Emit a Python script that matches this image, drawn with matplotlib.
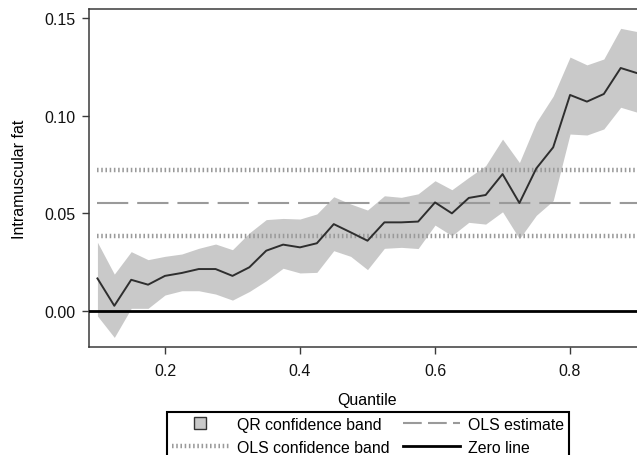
import matplotlib
matplotlib.use("Agg")
import matplotlib.pyplot as plt
from matplotlib.lines import Line2D

plt.rcParams['font.family'] = ['Liberation Sans', 'DejaVu Sans']

# Quantile regression coefficients for intramuscular fat
quantiles = [0.100, 0.125, 0.150, 0.175, 0.200, 0.225, 0.250, 0.275, 0.300,
             0.325, 0.350, 0.375, 0.400, 0.425, 0.450, 0.475, 0.500, 0.525,
             0.550, 0.575, 0.600, 0.625, 0.650, 0.675, 0.700, 0.725, 0.750,
             0.775, 0.800, 0.825, 0.850, 0.875, 0.900]
qr_estimate = [0.0167, 0.0027, 0.0160, 0.0135, 0.0180, 0.0195, 0.0215, 0.0215,
               0.0180, 0.0224, 0.0309, 0.0340, 0.0326, 0.0347, 0.0445, 0.0403,
               0.0360, 0.0454, 0.0454, 0.0458, 0.0556, 0.0500, 0.0579, 0.0594,
               0.0701, 0.0553, 0.0730, 0.0838, 0.1106, 0.1072, 0.1111, 0.1244,
               0.1217]
qr_upper = [0.0352, 0.0189, 0.0304, 0.0263, 0.0280, 0.0292, 0.0321, 0.0343,
            0.0314, 0.0400, 0.0468, 0.0474, 0.0471, 0.0497, 0.0585, 0.0548,
            0.0517, 0.0590, 0.0582, 0.0600, 0.0667, 0.0621, 0.0684, 0.0744,
            0.0880, 0.0760, 0.0966, 0.1100, 0.1300, 0.1260, 0.1290, 0.1447,
            0.1430]
qr_lower = [-0.0025, -0.0135, 0.0014, 0.0014, 0.0082, 0.0104, 0.0104, 0.0087,
            0.0056, 0.0100, 0.0155, 0.0219, 0.0195, 0.0198, 0.0309, 0.0280,
            0.0212, 0.0321, 0.0326, 0.0320, 0.0440, 0.0386, 0.0454, 0.0445,
            0.0508, 0.0370, 0.0490, 0.0565, 0.0906, 0.0901, 0.0932, 0.1043,
            0.1017]

# Ordinary least squares estimate and its confidence limits
ols_estimate = 0.0553
ols_lower = 0.0385
ols_upper = 0.0722

x_ticks = [0.2, 0.4, 0.6, 0.8]
y_ticks = [0.00, 0.05, 0.10, 0.15]
y_tick_labels = ["0.00", "0.05", "0.10", "0.15"]

band_color = '#c9c9c9'
line_color = '#2e2e2e'
ols_color = '#9a9a9a'
dot_style = (0, (0.35, 0.6))
dash_style = (0, (15, 4.3))

fig = plt.figure(figsize=(6.37, 4.56), dpi=100)
ax = fig.add_axes([89 / 637, (456 - 348) / 456, (645 - 89) / 637, (348 - 10) / 456])

ax.fill_between(quantiles, qr_lower, qr_upper, color=band_color, lw=0, zorder=1)
q_span = [quantiles[0], quantiles[-1]]
for level in (ols_lower, ols_upper):
    ax.plot(q_span, [level, level], color=ols_color, lw=3.2,
            linestyle=dot_style, dash_capstyle='butt', zorder=2)
ax.plot(q_span, [ols_estimate, ols_estimate], color=ols_color, lw=1.5,
        linestyle=dash_style, zorder=2)
ax.plot(quantiles, qr_estimate, color=line_color, lw=1.4, zorder=3)
ax.axhline(0.0, color='black', lw=2.0, zorder=4)

ax.set_xlim(0.0875, 0.911)
ax.set_ylim(-0.0184, 0.1546)
ax.set_xticks(x_ticks)
ax.set_xticklabels([f"{t:.1f}" for t in x_ticks])
ax.set_yticks(y_ticks)
ax.set_yticklabels(y_tick_labels)

for side in ('left', 'bottom', 'top', 'right'):
    ax.spines[side].set_color('#3a3a3a')
    ax.spines[side].set_linewidth(1.1)
ax.tick_params(axis='both', direction='out', length=5, width=1.0,
               color='#3a3a3a', labelsize=11.5, labelcolor='#111111')
ax.tick_params(axis='x', pad=6.5)
ax.tick_params(axis='y', pad=5)

ax.set_xlabel("Quantile", fontsize=11.5, labelpad=10)
ax.set_ylabel("Intramuscular fat", fontsize=11.5, labelpad=12)

handles = [
    Line2D([], [], linestyle='none', marker='s', markersize=8,
           markerfacecolor=band_color, markeredgecolor='#333333', markeredgewidth=1.0),
    Line2D([], [], color=ols_color, lw=3.2, linestyle=dot_style),
    Line2D([], [], color=ols_color, lw=1.5, linestyle=(0, (9, 3))),
    Line2D([], [], color='black', lw=2.0),
]
labels = ["QR confidence band", "OLS confidence band", "OLS estimate", "Zero line"]
leg = fig.legend(handles, labels, ncol=2, loc='upper center',
                 bbox_to_anchor=(368 / 637, (456 - 413) / 456),
                 fontsize=11.4, frameon=True, fancybox=False, framealpha=1,
                 edgecolor='black', handlelength=3.6, handletextpad=0.55,
                 columnspacing=0.8, labelspacing=0.5, borderpad=0.3,
                 borderaxespad=0)
leg.get_frame().set_linewidth(1.5)

fig.savefig("out.png", dpi=100)
